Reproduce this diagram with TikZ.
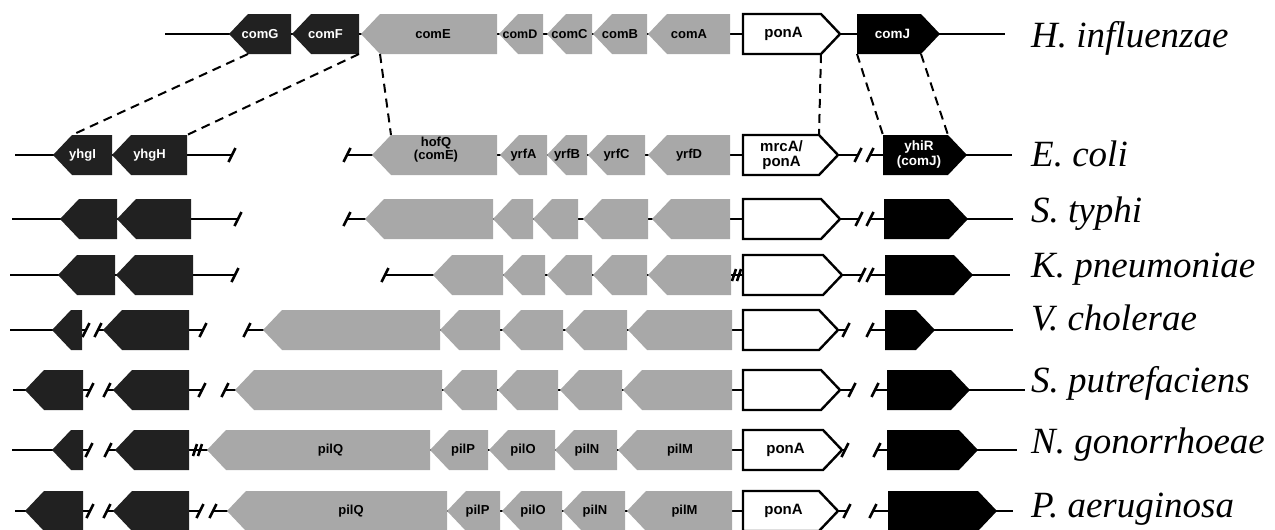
\documentclass[tikz,border=0pt]{standalone}
\usepackage{fontspec}
\setmainfont{Liberation Serif}
\newfontfamily\genefont{Liberation Sans}
\definecolor{geneGray}{gray}{0.66}
\definecolor{geneDark}{gray}{0.13}
\tikzset{
  bb/.style={line width=2.6pt},
  tickst/.style={line width=2.6pt},
  graygene/.style={fill=geneGray},
  darkgene/.style={fill=geneDark},
  blackgene/.style={fill=black},
  whitegene/.style={fill=white, draw=black, line width=2.4pt, line join=miter},
  genelab/.style={font=\genefont\bfseries\fontsize{13}{13}\selectfont, align=center, inner sep=0pt},
  graylab/.style={text=black},
  darklab/.style={text=white},
  blacklab/.style={text=white, font=\genefont\bfseries\fontsize{13.5}{15}\selectfont},
  whitelab/.style={text=black, font=\genefont\bfseries\fontsize{15}{15}\selectfont},
  specieslab/.style={font=\fontsize{37}{37}\selectfont\itshape, anchor=base west, inner sep=0pt},
  homol/.style={dash pattern=on 9pt off 6pt, line width=2pt}
}
% left-pointing gene: [label shift]{name}{x tip}{x end}{y}{kind}{label}
\newcommand\geneL[7][0]{%
  \pgfmathsetmacro\hx{min(19,#4-#3)}%
  \path[#6gene] (#3,#5) -- ({#3+\hx},{#5-20}) -- (#4,{#5-20}) -- (#4,{#5+20}) -- ({#3+\hx},{#5+20}) -- cycle;
  \coordinate (#2-tl) at ({#3+\hx},{#5-20});
  \coordinate (#2-bl) at ({#3+\hx},{#5+20});
  \coordinate (#2-tr) at (#4,{#5-20});
  \coordinate (#2-br) at (#4,{#5+20});
  \node[genelab,#6lab] (#2) at ({(#3+#4)/2+#1},#5) {#7};
}
% right-pointing gene
\newcommand\geneR[7][-7]{%
  \pgfmathsetmacro\hx{min(19,#4-#3)}%
  \path[#6gene] (#3,{#5-20}) -- ({#4-\hx},{#5-20}) -- (#4,#5) -- ({#4-\hx},{#5+20}) -- (#3,{#5+20}) -- cycle;
  \coordinate (#2-tl) at (#3,{#5-20});
  \coordinate (#2-bl) at (#3,{#5+20});
  \coordinate (#2-tr) at ({#4-\hx},{#5-20});
  \coordinate (#2-br) at ({#4-\hx},{#5+20});
  \node[genelab,#6lab] (#2) at ({(#3+#4)/2+#1},#5) {#7};
}
% end tick
\newcommand\tk[3]{%
  \coordinate (#1) at (#2,#3);
  \draw[tickst] ([xshift=-3.5pt,yshift=-7pt]#1) -- ([xshift=3.5pt,yshift=7pt]#1);
}
% break mark //
\newcommand\brk[3]{%
  \coordinate (#1) at (#2,#3);
  \draw[tickst] ([xshift=-5pt,yshift=-6pt]#1) -- ([xshift=-1pt,yshift=6pt]#1);
  \draw[tickst] ([xshift=0pt,yshift=-6pt]#1) -- ([xshift=4pt,yshift=6pt]#1);
}
\begin{document}
\begin{tikzpicture}[x=1pt,y=-1pt]
\useasboundingbox (0,0) rectangle (1275,530);

% ---------- Row 1: H. influenzae ----------
\coordinate (r1s) at (165,34); \coordinate (r1e) at (1005,34);
\draw[bb] (r1s) -- (r1e);
\geneL{comG}{229}{291}{34}{dark}{comG}
\geneL{comF}{292}{359}{34}{dark}{comF}
\geneL[4]{comE}{361}{497}{34}{gray}{comE}
\geneL[-1]{comD}{499}{543}{34}{gray}{\fontsize{12.5}{13}\selectfont comD}
\geneL{comC}{547}{592}{34}{gray}{comC}
\geneL{comB}{593}{647}{34}{gray}{comB}
\geneL{comA}{648}{730}{34}{gray}{comA}
\geneR[-8]{ponAa}{743}{840}{34}{white}{ponA}
\geneR[-6]{comJ}{857}{940}{34}{black}{comJ}

% ---------- Row 2: E. coli ----------
\coordinate (r2s) at (15,155); \tk{r2a}{232}{155}
\draw[bb] (r2s) -- (r2a);
\tk{r2b}{347}{155} \tk{r2c}{858}{155}
\draw[bb] (r2b) -- (r2c);
\tk{r2d}{870}{155} \coordinate (r2e) at (1012,155);
\draw[bb] (r2d) -- (r2e);
\geneL{yhgI}{53}{112}{155}{dark}{yhgI}
\geneL{yhgH}{112}{187}{155}{dark}{yhgH}
\geneL{hofQ}{372}{497}{155}{gray}{}
\node[genelab,graylab] (hofQlab) at (436,150) {hofQ\\(comE)};
\geneL{yrfA}{500}{547}{155}{gray}{yrfA}
\geneL{yrfB}{547}{587}{155}{gray}{yrfB}
\geneL{yrfC}{588}{645}{155}{gray}{yrfC}
\geneL{yrfD}{648}{730}{155}{gray}{yrfD}
\geneR[-9]{mrcA}{743}{838}{155}{white}{mrcA/\\ponA}
\geneR[-6]{yhiR}{883}{967}{155}{black}{yhiR\\(comJ)}

% ---------- Row 3: S. typhi ----------
\coordinate (r3s) at (12,219); \tk{r3a}{238}{219}
\draw[bb] (r3s) -- (r3a);
\tk{r3b}{347}{219} \tk{r3c}{859}{219}
\draw[bb] (r3b) -- (r3c);
\tk{r3d}{870}{219} \coordinate (r3e) at (1013,219);
\draw[bb] (r3d) -- (r3e);
\geneL{st1}{60}{117}{219}{dark}{}
\geneL{st2}{117}{191}{219}{dark}{}
\geneL{st3}{365}{493}{219}{gray}{}
\geneL{st4}{493}{533}{219}{gray}{}
\geneL{st5}{533}{578}{219}{gray}{}
\geneL{st6}{583}{648}{219}{gray}{}
\geneL{st7}{652}{730}{219}{gray}{}
\geneR{st8}{743}{840}{219}{white}{}
\geneR{st9}{884}{968}{219}{black}{}

% ---------- Row 4: K. pneumoniae ----------
\coordinate (r4s) at (10,275); \tk{r4a}{235}{275}
\draw[bb] (r4s) -- (r4a);
\tk{r4b}{385}{275} \coordinate (r4x) at (743,275);
\draw[bb] (r4b) -- (r4x);
\tk{r4c}{862}{275}
\draw[bb] (r4x) -- (r4c);
\tk{r4d}{870}{275} \coordinate (r4e) at (1010,275);
\draw[bb] (r4d) -- (r4e);
\geneL{kp1}{58}{115}{275}{dark}{}
\geneL{kp2}{116}{193}{275}{dark}{}
\geneL{kp3}{433}{503}{275}{gray}{}
\geneL{kp4}{503}{545}{275}{gray}{}
\geneL{kp5}{547}{592}{275}{gray}{}
\geneL{kp6}{593}{647}{275}{gray}{}
\geneL{kp7}{648}{731}{275}{gray}{}
\brk{r4k}{737}{275}
\geneR{kp8}{743}{842}{275}{white}{}
\geneR{kp9}{885}{973}{275}{black}{}

% ---------- Row 5: V. cholerae ----------
\coordinate (r5s) at (10,330); \tk{r5a}{86}{330}
\draw[bb] (r5s) -- (r5a);
\tk{r5b}{98}{330} \tk{r5c}{203}{330}
\draw[bb] (r5b) -- (r5c);
\tk{r5d}{247}{330} \tk{r5e}{846}{330}
\draw[bb] (r5d) -- (r5e);
\tk{r5f}{870}{330} \coordinate (r5g) at (1013,330);
\draw[bb] (r5f) -- (r5g);
\geneL{vc1}{52}{82}{330}{dark}{}
\geneL{vc2}{103}{189}{330}{dark}{}
\geneL{vc3}{263}{440}{330}{gray}{}
\geneL{vc4}{440}{500}{330}{gray}{}
\geneL{vc5}{502}{563}{330}{gray}{}
\geneL{vc6}{565}{627}{330}{gray}{}
\geneL{vc7}{628}{732}{330}{gray}{}
\geneR{vc8}{743}{838}{330}{white}{}
\geneR{vc9}{885}{935}{330}{black}{}

% ---------- Row 6: S. putrefaciens ----------
\coordinate (r6s) at (13,390); \tk{r6a}{90}{390}
\draw[bb] (r6s) -- (r6a);
\tk{r6b}{107}{390} \tk{r6c}{202}{390}
\draw[bb] (r6b) -- (r6c);
\tk{r6d}{225}{390} \tk{r6e}{852}{390}
\draw[bb] (r6d) -- (r6e);
\tk{r6f}{875}{390} \coordinate (r6g) at (1025,390);
\draw[bb] (r6f) -- (r6g);
\geneL{sp1}{25}{83}{390}{dark}{}
\geneL{sp2}{113}{189}{390}{dark}{}
\geneL{sp3}{235}{442}{390}{gray}{}
\geneL{sp4}{443}{497}{390}{gray}{}
\geneL{sp5}{498}{558}{390}{gray}{}
\geneL{sp6}{560}{622}{390}{gray}{}
\geneL{sp7}{623}{732}{390}{gray}{}
\geneR{sp8}{743}{840}{390}{white}{}
\geneR{sp9}{887}{970}{390}{black}{}

% ---------- Row 7: N. gonorrhoeae ----------
\coordinate (r7s) at (12,450); \tk{r7a}{89}{450}
\draw[bb] (r7s) -- (r7a);
\tk{r7b}{108}{450} \coordinate (r7x) at (207,450);
\draw[bb] (r7b) -- (r7x);
\tk{r7c}{845}{450}
\draw[bb] (r7x) -- (r7c);
\tk{r7d}{877}{450} \coordinate (r7e) at (1017,450);
\draw[bb] (r7d) -- (r7e);
\geneL{ng1}{52}{83}{450}{dark}{}
\geneL{ng2}{115}{189}{450}{dark}{}
\brk{r7k}{198}{450}
\geneL[12]{pilQa}{207}{430}{450}{gray}{pilQ}
\geneL[4]{pilPa}{430}{488}{450}{gray}{pilP}
\geneL[1]{pilOa}{489}{555}{450}{gray}{pilO}
\geneL[1]{pilNa}{555}{617}{450}{gray}{pilN}
\geneL[5]{pilMa}{618}{732}{450}{gray}{pilM}
\geneR{ponAb}{743}{842}{450}{white}{ponA}
\geneR{ng9}{887}{978}{450}{black}{}

% ---------- Row 8: P. aeruginosa ----------
\coordinate (r8s) at (15,511); \tk{r8a}{90}{511}
\draw[bb] (r8s) -- (r8a);
\tk{r8b}{107}{511} \tk{r8c}{200}{511}
\draw[bb] (r8b) -- (r8c);
\tk{r8d}{213}{511} \tk{r8e}{847}{511}
\draw[bb] (r8d) -- (r8e);
\tk{r8f}{873}{511} \coordinate (r8g) at (1013,511);
\draw[bb] (r8f) -- (r8g);
\geneL{pa1}{25}{83}{511}{dark}{}
\geneL{pa2}{113}{189}{511}{dark}{}
\geneL[14]{pilQb}{227}{447}{511}{gray}{pilQ}
\geneL[4]{pilPb}{447}{500}{511}{gray}{pilP}
\geneL[1]{pilOb}{502}{562}{511}{gray}{pilO}
\geneL[1]{pilNb}{563}{625}{511}{gray}{pilN}
\geneL[5]{pilMb}{627}{732}{511}{gray}{pilM}
\geneR{ponAc}{743}{838}{511}{white}{ponA}
\geneR{pa9}{888}{997}{511}{black}{}

% ---------- homology connectors ----------
\draw[homol] (comG-bl) -- (yhgI-tl);
\draw[homol] (comF-br) -- (yhgH-tr);
\draw[homol] (comE-bl) -- (hofQ-tl);
\draw[homol] (ponAa-br) -- (mrcA-tr);
\draw[homol] (comJ-bl) -- (yhiR-tl);
\draw[homol] (comJ-br) -- (yhiR-tr);

% ---------- species ----------
\node[specieslab] (hinf) at (1031,47) {H. influenzae};
\node[specieslab] (ecoli) at (1031,166) {E. coli};
\node[specieslab] (styph) at (1031,222) {S. typhi};
\node[specieslab] (kpneu) at (1031,277) {K. pneumoniae};
\node[specieslab] (vchol) at (1031,330) {V. cholerae};
\node[specieslab] (sputr) at (1031,392) {S. putrefaciens};
\node[specieslab] (ngono) at (1031,453) {N. gonorrhoeae};
\node[specieslab] (paeru) at (1031,517) {P. aeruginosa};
\end{tikzpicture}
\end{document}
